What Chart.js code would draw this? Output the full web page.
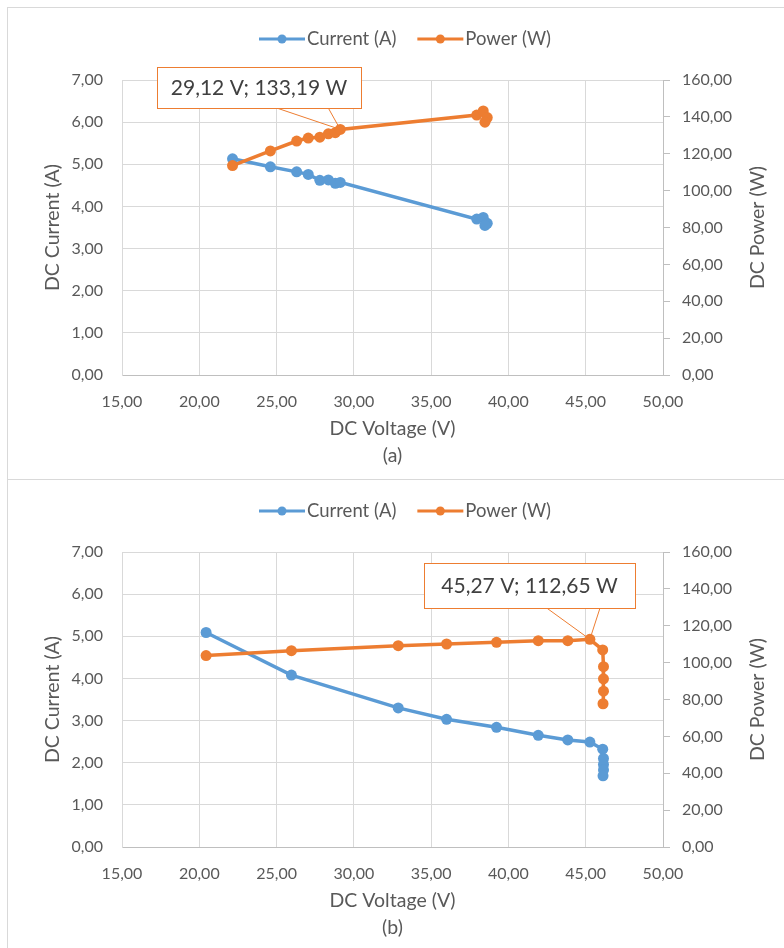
<!DOCTYPE html>
<html><head><meta charset="utf-8">
<script src="https://cdn.jsdelivr.net/npm/chart.js@4.4.0/dist/chart.umd.min.js"></script>
<style>
body{margin:0;background:#fff;width:784px;height:948px;overflow:hidden;position:relative;font-family:Lato,sans-serif}
.panel{position:absolute;left:7px;width:800px;border:1px solid #d9d9d9;background:#fff}
#pa{top:7px;height:471px}
#pb{top:479px;height:480px}
canvas{position:absolute;left:0;top:0}
</style></head>
<body>
<div class="panel" id="pa"><canvas id="ca" width="776" height="471"></canvas></div>
<div class="panel" id="pb"><canvas id="cb" width="776" height="471"></canvas></div>
<script>
// ---- data (a) ----
const voltageA = [22.15, 24.60, 26.30, 27.05, 27.80, 28.35, 28.80, 29.12, 37.95, 38.37, 38.63, 38.48];
const currentA = [5.13, 4.94, 4.82, 4.76, 4.62, 4.63, 4.55, 4.57, 3.70, 3.74, 3.60, 3.55];
const powerA   = [113.6, 121.5, 126.9, 128.5, 129.0, 130.8, 131.4, 133.19, 141.0, 143.2, 139.6, 137.1];
// ---- data (b) ----
const voltageB = [20.44, 25.96, 32.87, 36.00, 39.23, 41.93, 43.84, 45.27, 46.10, 46.15, 46.15, 46.15, 46.12];
const currentB = [5.09, 4.08, 3.30, 3.03, 2.84, 2.65, 2.54, 2.49, 2.32, 2.10, 1.96, 1.83, 1.69];
const powerB   = [103.8, 106.5, 109.2, 110.1, 111.0, 111.9, 111.9, 112.65, 106.9, 97.8, 91.2, 84.5, 77.7];
// ---- labels ----
const seriesNames = ['Current (A)', 'Power (W)'];
const xTitle = 'DC Voltage (V)';
const yTitle = 'DC Current (A)';
const y1Title = 'DC Power (W)';
const captions = ['(a)', '(b)'];
const calloutA = {v: 29.12, p: 133.19, text: '29,12 V; 133,19 W'};
const calloutB = {v: 45.27, p: 112.65, text: '45,27 V; 112,65 W'};

const BLUE = '#5B9BD5', ORANGE = '#ED7D31', TXT = '#595959';
const FONT = 'Lato';
const fmt = v => Number(v).toFixed(2).replace('.', ',');

function pts(xs, ys){ return xs.map((x,i)=>({x:x, y:ys[i]})); }

function overlay(caption, callout, box){
  return {
    id:'overlay',
    afterDraw(chart){
      const c = chart.ctx, a = chart.chartArea;
      c.save();
      // legend
      c.font = '18.5px ' + FONT;
      c.textBaseline = 'middle';
      const ly = 31;
      let x = 251;
      [[BLUE, seriesNames[0]], [ORANGE, seriesNames[1]]].forEach(([col, name]) => {
        c.strokeStyle = col; c.lineWidth = 3;
        c.beginPath(); c.moveTo(x, ly); c.lineTo(x + 46, ly); c.stroke();
        c.fillStyle = col; c.beginPath(); c.arc(x + 23, ly, 4.5, 0, Math.PI*2); c.fill();
        c.fillStyle = TXT; c.textAlign = 'left';
        c.fillText(name, x + 48, ly);
        x += 48 + c.measureText(name).width + 21;
      });
      // axis titles
      c.font = '19.5px ' + FONT; c.fillStyle = TXT; c.textAlign = 'center';
      const cx = (a.left + a.right) / 2, cy = (a.top + a.bottom) / 2;
      c.fillText(xTitle, cx, 421);
      c.fillText(caption, cx, 448);
      c.save(); c.translate(44.5, cy); c.rotate(-Math.PI/2); c.fillText(yTitle, 0, 0); c.restore();
      c.save(); c.translate(749.5, cy); c.rotate(-Math.PI/2); c.fillText(y1Title, 0, 0); c.restore();
      // callout
      const px = chart.scales.x.getPixelForValue(callout.v);
      const py = chart.scales.y1.getPixelForValue(callout.p);
      c.strokeStyle = ORANGE; c.lineWidth = 1;
      c.beginPath();
      c.moveTo(box.b1, box.y + box.h); c.lineTo(px, py); c.lineTo(box.b2, box.y + box.h);
      c.stroke();
      c.fillStyle = '#fff';
      c.fillRect(box.x, box.y, box.w, box.h);
      c.strokeRect(box.x + 0.5, box.y + 0.5, box.w, box.h);
      c.font = '21px ' + FONT; c.fillStyle = '#404040'; c.textAlign = 'center';
      c.fillText(callout.text, box.x + box.w/2, box.y + box.h/2 + 1);
      c.restore();
    }
  };
}

function make(id, V, I, P, caption, callout, box){
  const tickFont = {family: FONT, size: 16};
  return new Chart(document.getElementById(id), {
    type: 'scatter',
    data: { datasets: [
      {label: seriesNames[0], data: pts(V, I), yAxisID: 'y', showLine: true, borderColor: BLUE, backgroundColor: BLUE,
       borderWidth: 3.5, pointRadius: 5.5, pointBorderWidth: 0, pointBackgroundColor: BLUE, order: 1},
      {label: seriesNames[1], data: pts(V, P), yAxisID: 'y1', showLine: true, borderColor: ORANGE, backgroundColor: ORANGE,
       borderWidth: 3.5, pointRadius: 5.5, pointBorderWidth: 0, pointBackgroundColor: ORANGE, order: 0}
    ]},
    options: {
      responsive: false, animation: false, devicePixelRatio: 1,
      layout: {padding: {top: 72, left: 0, right: 0, bottom: 0}},
      plugins: {legend: {display: false}, tooltip: {enabled: false}},
      scales: {
        x: {type: 'linear', min: 15, max: 50,
            ticks: {stepSize: 5, callback: fmt, font: tickFont, color: TXT, padding: 17, maxRotation: 0, autoSkip: false},
            grid: {color: '#d9d9d9', drawTicks: false}, border: {color: '#bfbfbf'},
            afterFit: s => { s.height = 104; }},
        y: {position: 'left', min: 0, max: 7,
            ticks: {stepSize: 1, callback: fmt, font: tickFont, color: TXT, padding: 19},
            grid: {color: '#d9d9d9', drawTicks: false}, border: {color: '#d9d9d9'},
            afterFit: s => { s.width = 114; }},
        y1: {position: 'right', min: 0, max: 160,
            ticks: {stepSize: 20, callback: fmt, font: tickFont, color: TXT, padding: 12},
            grid: {drawOnChartArea: false, drawTicks: true, tickLength: 7, color: '#bfbfbf'}, border: {color: '#bfbfbf'},
            afterFit: s => { s.width = 121; }}
      }
    },
    plugins: [overlay(caption, callout, box)]
  });
}

function go(){
  make('ca', voltageA, currentA, powerA, captions[0], calloutA, {x: 149, y: 59, w: 204, h: 41, b1: 268.7, b2: 320.3});
  make('cb', voltageB, currentB, powerB, captions[1], calloutB, {x: 416, y: 83, w: 211, h: 45, b1: 538.7, b2: 592});
}
if (document.fonts && document.fonts.load) {
  Promise.all([document.fonts.load('16px Lato')]).then(go, go);
} else go();
</script>
</body></html>
